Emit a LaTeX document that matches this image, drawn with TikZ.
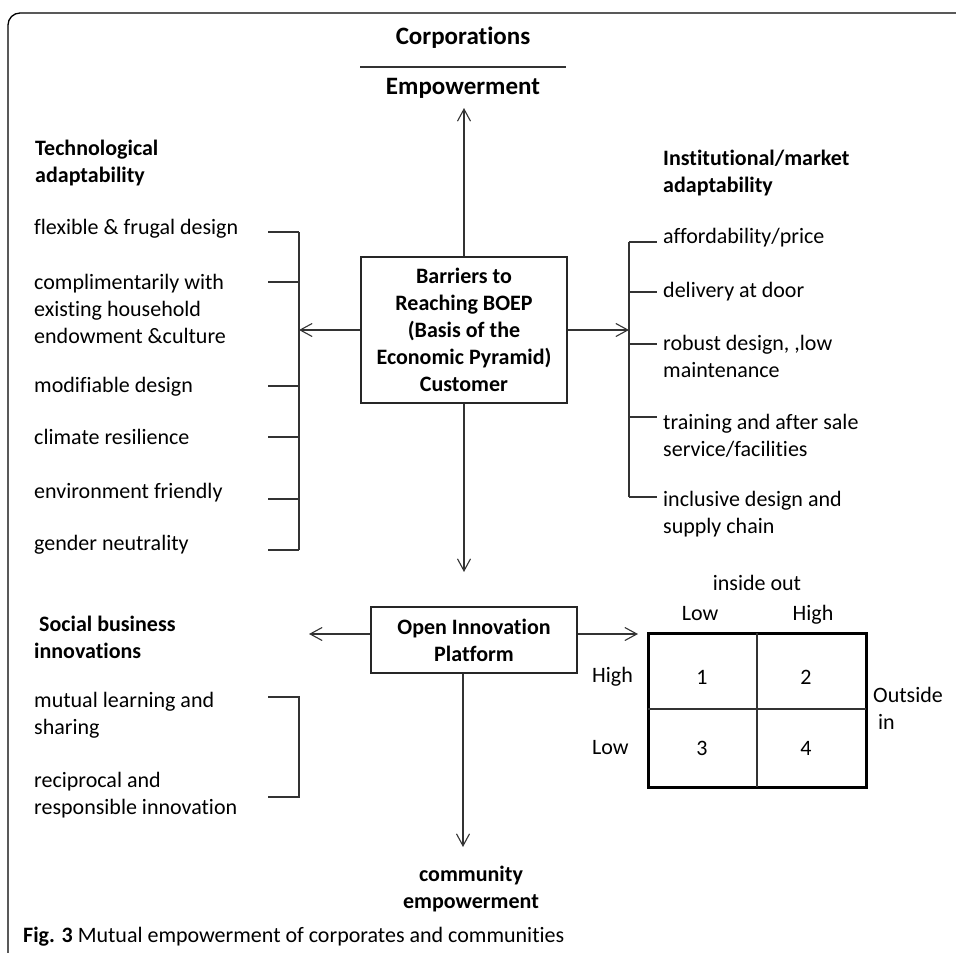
\documentclass[tikz,border=0pt]{standalone}
\usepackage{fontspec}
\setmainfont[Ligatures=NoCommon]{Carlito}
\usetikzlibrary{arrows.meta}

\newcommand{\bodyfont}{\fontsize{22}{27}\selectfont}
\newcommand{\titlefont}{\fontsize{25}{30}\selectfont\bfseries}

\tikzset{
  txt/.style={inner sep=0pt, align=left, font=\bodyfont},
  lbl/.style={inner sep=0pt, font=\bodyfont, anchor=base},
  hd/.style={txt, font=\bodyfont\bfseries},
  blk/.style={draw=black!85, line width=1.4pt, inner sep=0pt, align=center, font=\bodyfont\bfseries},
  con/.style={draw=black!80, line width=1.1pt},
  arr/.style={con, -{Straight Barb[length=12pt,width=13pt]}},
}

\begin{document}
\begin{tikzpicture}[x=1pt,y=-1pt]
  \useasboundingbox (0,0) rectangle (956,953);

  % frame
  \draw[line width=1.3pt, rounded corners=12pt] (8,960) -- (8,13) -- (960,13);

  % top
  \node[inner sep=0pt, font=\titlefont] (corp) at (463,38) {Corporations};
  \node[inner sep=0pt, font=\titlefont] (emp) at (463,88) {Empowerment};
  \draw[con] (360,67) -- (566,67);

  % centre box
  \node[blk, minimum width=206, minimum height=146] (barrier) at (464,330)
    {Barriers to\\Reaching BOEP\\(Basis of the\\Economic Pyramid)\\Customer};
  \coordinate (uptip) at (464,108);
  \coordinate (downtip) at (464,572);
  \draw[arr] (barrier.north) -- (uptip);
  \draw[arr] (barrier.south) -- (downtip);

  % technological adaptability
  \node[hd, anchor=west] (tech) at (35,163.5) {Technological\\adaptability};
  \node[txt, anchor=west] (t1) at (34,229) {flexible \& frugal design};
  \node[txt, anchor=west] (t2) at (34,308.5) {complimentarily with\\existing household\\endowment \&culture};
  \node[txt, anchor=west] (t3) at (34,387) {modifiable design};
  \node[txt, anchor=west] (t4) at (34,437) {climate resilience};
  \node[txt, anchor=west] (t5) at (34,493) {environment friendly};
  \node[txt, anchor=west] (t6) at (34,545) {gender neutrality};
  \coordinate (ltop) at (299,232);
  \coordinate (lbot) at (299,550);
  \draw[con] (ltop) -- (lbot);
  \foreach \y in {232,282,386,437,499,550}
    \draw[con] (268,\y) -- (299,\y);
  \draw[arr] (barrier.west) -- (barrier.west -| ltop);

  % institutional/market adaptability
  \node[hd, anchor=west] (inst) at (663,173.5) {Institutional/market\\adaptability};
  \node[txt, anchor=west] (m1) at (663,238) {affordability/price};
  \node[txt, anchor=west] (m2) at (663,292) {delivery at door};
  \node[txt, anchor=west] (m3) at (663,356.5) {robust design, ,low\\maintenance};
  \node[txt, anchor=west] (m4) at (663,436) {training and after sale\\service/facilities};
  \node[txt, anchor=west] (m5) at (663,514.5) {inclusive design and\\supply chain};
  \coordinate (rtop) at (629,242);
  \coordinate (rbot) at (629,497);
  \draw[con] (rtop) -- (rbot);
  \foreach \y in {242,292,344,417,497}
    \draw[con] (629,\y) -- (657,\y);
  \draw[arr] (barrier.east) -- (barrier.east -| rtop);

  % open innovation platform
  \node[blk, minimum width=206, minimum height=66] (oip) at (474,640)
    {Open Innovation\\Platform};
  \node[hd, anchor=west] (sbi) at (34,637.5) {\hspace*{5pt}Social business\\innovations};
  \node[txt, anchor=west] (s1) at (34,715) {mutual learning and\\sharing};
  \node[txt, anchor=west] (s2) at (34,795) {reciprocal and\\responsible innovation};
  \coordinate (stop) at (299,697);
  \coordinate (sbot) at (299,797);
  \draw[con] (268,697) -- (stop) -- (sbot) -- (268,797);
  \coordinate (sbitip) at (309,634);
  \draw[arr] (oip.west |- sbitip) -- (sbitip);

  % community empowerment
  \node[hd, align=center] (comm) at (471,889) {community\\empowerment};
  \coordinate (commtip) at (463,847);
  \draw[arr] (oip.south -| commtip) -- (commtip);

  % inside out / outside in matrix
  \draw[line width=3pt] (648,633) rectangle (866,787);
  \draw[con, line width=1.2pt] (757,633) -- (757,787);
  \draw[con, line width=1.2pt] (648,709) -- (866,709);
  \coordinate (gridtip) at (638,634);
  \draw[arr] (oip.east |- gridtip) -- (gridtip);
  \node[lbl] (io) at (757,590) {inside out};
  \node[lbl] (iolow) at (700,620) {Low};
  \node[lbl] (iohigh) at (813,620) {High};
  \node[lbl] (c1) at (702,684) {1};
  \node[lbl] (c2) at (806,684) {2};
  \node[lbl] (c3) at (702,755) {3};
  \node[lbl] (c4) at (806,755) {4};
  \node[lbl, anchor=base west] (oihigh) at (592,682) {High};
  \node[lbl, anchor=base west] (oilow) at (592,754) {Low};
  \node[txt, anchor=west] (oi) at (873,708) {Outside\\\hspace*{5pt}in};

  % caption
  \node[txt, anchor=west] (cap) at (23,937)
    {\textbf{Fig. 3} Mutual empowerment of corporates and communities};
\end{tikzpicture}
\end{document}
